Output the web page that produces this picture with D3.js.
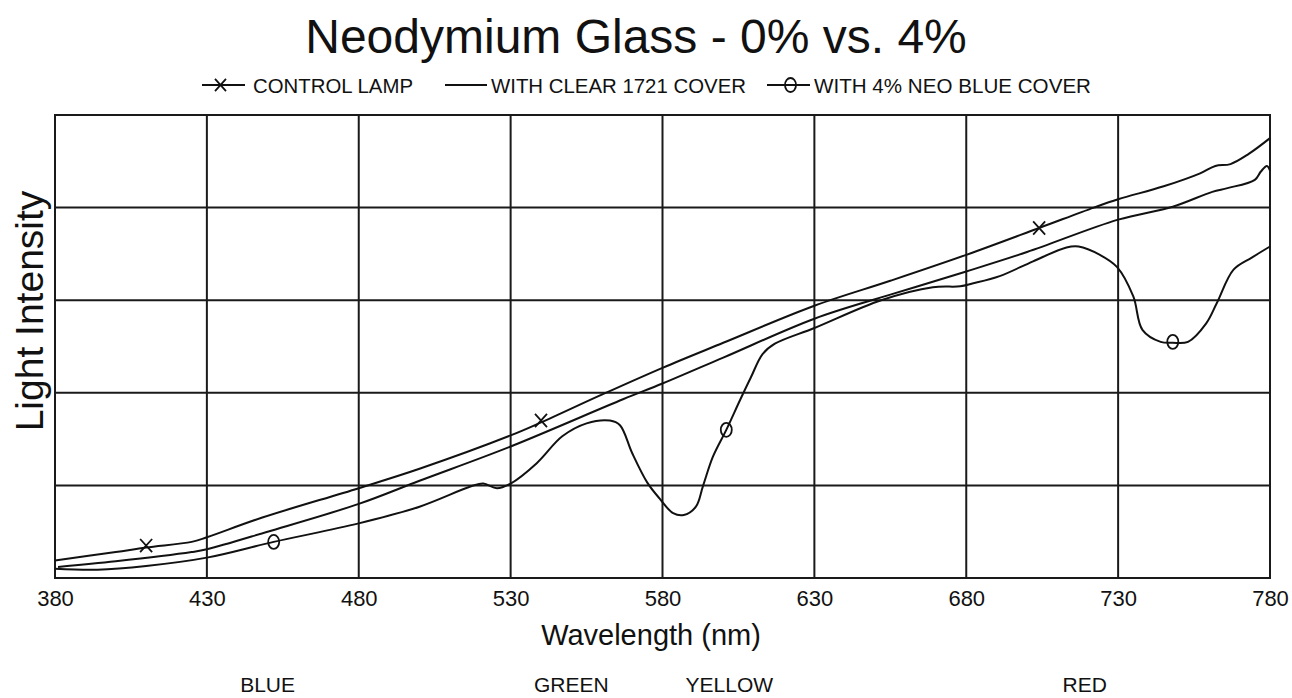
<!DOCTYPE html>
<html>
<head>
<meta charset="utf-8">
<script src="https://cdn.jsdelivr.net/npm/d3@7"></script>
<style>
  body { margin: 0; background: #fff; }
  text { font-family: "Liberation Sans", Arial, sans-serif; fill: #111; }
</style>
</head>
<body>
<svg id="chart" width="1292" height="698"></svg>
<script>
// wavelength (nm) / relative intensity (grid units 0..5)
const controlLamp = [
  [380, 0.19], [400, 0.28], [410, 0.33], [425, 0.39], [430, 0.44], [448, 0.65],
  [480, 0.97], [500, 1.18], [530, 1.54], [540, 1.68], [560, 1.98], [580, 2.27],
  [600, 2.54], [630, 2.94], [655, 3.21], [680, 3.49], [704, 3.78], [722, 4.00],
  [730, 4.09], [745, 4.23], [757, 4.37], [762, 4.45], [767, 4.47], [773, 4.58],
  [780, 4.75]
];
const clearCover = [
  [381, 0.12], [400, 0.18], [425, 0.28], [430, 0.31], [450, 0.50], [480, 0.80],
  [500, 1.05], [530, 1.42], [567, 1.93], [580, 2.10], [600, 2.38], [630, 2.80],
  [655, 3.06], [680, 3.31], [700, 3.52], [730, 3.87], [748, 4.01], [761, 4.17],
  [766, 4.21], [775, 4.30], [777, 4.39], [779, 4.45], [780, 4.40]
];
const neoCover = [
  [380, 0.10], [394, 0.09], [410, 0.13], [430, 0.22], [452, 0.39], [480, 0.59],
  [500, 0.77], [517, 0.99], [521, 1.02], [525.5, 0.97], [530, 1.02], [538.6, 1.24],
  [547, 1.53], [555, 1.67], [562.7, 1.70], [566, 1.65], [570, 1.35], [575, 1.03],
  [579, 0.86], [583.5, 0.70], [587, 0.68], [591, 0.77], [593.3, 0.99], [596.6, 1.31],
  [601, 1.60], [605.5, 1.92], [609, 2.16], [613, 2.42], [617, 2.53], [630, 2.70],
  [652, 3.00], [669, 3.14], [678, 3.15], [682, 3.18], [691, 3.26], [702, 3.42],
  [713, 3.57], [717, 3.58], [724, 3.49], [729.6, 3.36], [735, 3.04], [738, 2.68],
  [744, 2.55], [748, 2.54], [753, 2.55], [759, 2.75], [762.5, 2.97], [768, 3.33],
  [774, 3.46], [780, 3.58]
];
const controlMarks = [[410, 0.35], [540, 1.70], [704, 3.78]];
const neoMarks = [[452, 0.39], [601, 1.60], [748, 2.55]];

const xTicks = [380, 430, 480, 530, 580, 630, 680, 730, 780];
const yGrid = [1, 2, 3, 4];
const bands = [['BLUE', 450], ['GREEN', 550], ['YELLOW', 602], ['RED', 719]];
const legendItems = [
  { label: 'CONTROL LAMP', mark: 'x' },
  { label: 'WITH CLEAR 1721 COVER', mark: 'none' },
  { label: 'WITH 4% NEO BLUE COVER', mark: 'o' }
];

const svg = d3.select('#chart');
const margin = { left: 55, right: 22, top: 115, bottom: 120 };
const W = 1292, H = 698;

const x = d3.scaleLinear().domain([380, 780]).range([margin.left, W - margin.right]);
const y = d3.scaleLinear().domain([0, 5]).range([H - margin.bottom, margin.top]);

svg.append('rect').attr('width', W).attr('height', H).attr('fill', '#fff');

// grid
const grid = svg.append('g').attr('stroke', '#1a1a1a').attr('stroke-width', 2);
grid.selectAll('.v').data(xTicks.slice(1, -1)).enter().append('line')
  .attr('x1', d => x(d)).attr('x2', d => x(d))
  .attr('y1', y(0)).attr('y2', y(5));
grid.selectAll('.h').data(yGrid).enter().append('line')
  .attr('x1', x(380)).attr('x2', x(780))
  .attr('y1', d => y(d)).attr('y2', d => y(d));
grid.append('rect')
  .attr('x', x(380)).attr('y', y(5))
  .attr('width', x(780) - x(380)).attr('height', y(0) - y(5))
  .attr('fill', 'none');

// x axis labels
const xAxis = svg.append('g')
  .attr('transform', `translate(0,${y(0)})`)
  .call(d3.axisBottom(x).tickValues(xTicks).tickSize(0).tickPadding(8).tickFormat(d3.format('d')));
xAxis.select('.domain').remove();
xAxis.selectAll('text')
  .attr('font-family', '"Liberation Sans", Arial, sans-serif')
  .attr('font-size', 22).attr('fill', '#111').attr('dy', '0.9em');

// curves
const line = d3.line().x(d => x(d[0])).y(d => y(d[1])).curve(d3.curveCatmullRom.alpha(0.5));
[controlLamp, clearCover, neoCover].forEach(s => {
  svg.append('path').datum(s)
    .attr('fill', 'none').attr('stroke', '#111').attr('stroke-width', 2)
    .attr('d', line);
});

function drawX(g, cx, cy, r) {
  g.append('path')
    .attr('d', `M${cx - r},${cy - r * 1.1}L${cx + r},${cy + r * 1.1}M${cx + r},${cy - r * 1.1}L${cx - r},${cy + r * 1.1}`)
    .attr('stroke', '#111').attr('stroke-width', 1.8).attr('fill', 'none');
}
function drawO(g, cx, cy) {
  g.append('ellipse').attr('cx', cx).attr('cy', cy).attr('rx', 5.5).attr('ry', 7)
    .attr('fill', 'none').attr('stroke', '#111').attr('stroke-width', 1.8);
}
const marks = svg.append('g');
controlMarks.forEach(d => drawX(marks, x(d[0]), y(d[1]), 6));
neoMarks.forEach(d => drawO(marks, x(d[0]), y(d[1])));

// title
svg.append('text').attr('x', 636).attr('y', 53).attr('text-anchor', 'middle')
  .attr('font-size', 48).text('Neodymium Glass - 0% vs. 4%');

// legend
const legendPos = [[202, 245, 253, 160], [445, 487, 491, 255], [767, 810, 814, 277]];
const legend = svg.append('g');
legendItems.forEach((d, i) => {
  const [x1, x2, tx, tl] = legendPos[i];
  legend.append('line').attr('x1', x1).attr('x2', x2).attr('y1', 85).attr('y2', 85)
    .attr('stroke', '#111').attr('stroke-width', 1.8);
  if (d.mark === 'x') drawX(legend, (x1 + x2) / 2 - 3, 85, 5.5);
  if (d.mark === 'o') drawO(legend, (x1 + x2) / 2 + 2, 85);
  legend.append('text').attr('x', tx).attr('y', 93).attr('font-size', 21)
    .attr('textLength', tl).attr('lengthAdjust', 'spacingAndGlyphs').text(d.label);
});

// axis titles
svg.append('text').attr('x', 651).attr('y', 645).attr('text-anchor', 'middle')
  .attr('font-size', 29).text('Wavelength (nm)');
svg.append('text').attr('transform', 'translate(43,311) rotate(-90)')
  .attr('text-anchor', 'middle').attr('font-size', 39).text('Light Intensity');

// colour bands
svg.selectAll('.band').data(bands).enter().append('text')
  .attr('x', d => x(d[1])).attr('y', 692).attr('text-anchor', 'middle')
  .attr('font-size', 21).text(d => d[0]);
</script>
</body>
</html>
